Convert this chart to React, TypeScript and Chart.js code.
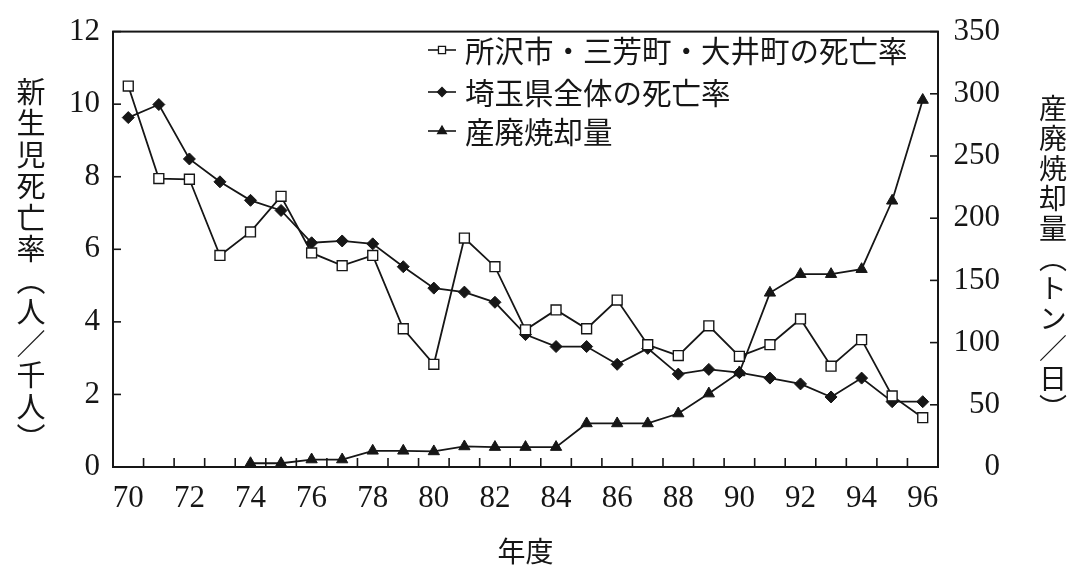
import React, { useEffect, useRef } from 'react';
import { Chart, registerables } from 'chart.js';
import { drawPoint } from 'chart.js/helpers';

Chart.register(...registerables);

// ---- data ----
const years = ['70', '71', '72', '73', '74', '75', '76', '77', '78', '79', '80', '81', '82', '83', '84', '85', '86', '87', '88', '89', '90', '91', '92', '93', '94', '95', '96'];
const tokorozawaRate = [10.5, 7.95, 7.93, 5.83, 6.48, 7.46, 5.9, 5.55, 5.83, 3.81, 2.83, 6.31, 5.52, 3.78, 4.33, 3.81, 4.6, 3.37, 3.07, 3.89, 3.05, 3.37, 4.08, 2.78, 3.51, 1.96, 1.36];
const saitamaRate = [9.63, 9.99, 8.49, 7.86, 7.35, 7.07, 6.18, 6.23, 6.15, 5.52, 4.93, 4.82, 4.54, 3.65, 3.32, 3.32, 2.83, 3.27, 2.56, 2.69, 2.6, 2.45, 2.29, 1.93, 2.45, 1.8, 1.8];
const incinerationTons = [null, null, null, null, 3, 3, 6, 6, 13, 13, 12.5, 16.5, 16, 16, 16, 35, 35, 35, 43, 59, 76, 140, 155, 155, 159, 214, 295];
const seriesNames = ['所沢市・三芳町・大井町の死亡率', '埼玉県全体の死亡率', '産廃焼却量'];
const xTitle = '年度';
const leftTitle = '新生児死亡率（人／千人）';
const rightTitle = '産廃焼却量（トン／日）';
const leftRange = { min: 0, max: 12, step: 2 };
const rightRange = { min: 0, max: 350, step: 50 };

const INK = '#161616';
const NUM_FONT = '"Liberation Serif", "DejaVu Serif", serif';
const CJK_FONT = '"Noto Sans CJK JP", "Noto Sans CJK SC", sans-serif';

const framePlugin = {
  id: 'frameTicks',
  afterDatasetsDraw(chart: any) {
    const { ctx, chartArea } = chart;
    const { left, right, top, bottom } = chartArea;
    const xs = chart.scales.x;
    const yl = chart.scales.yL;
    const yr = chart.scales.yR;
    ctx.save();
    ctx.strokeStyle = INK;
    ctx.lineWidth = 1.6;
    const n = xs.ticks.length;
    for (let i = 0; i < n - 1; i++) {
      const x = (xs.getPixelForTick(i) + xs.getPixelForTick(i + 1)) / 2;
      ctx.beginPath();
      ctx.moveTo(x, bottom);
      ctx.lineTo(x, bottom - 9);
      ctx.stroke();
    }
    yl.ticks.forEach((t: any) => {
      const y = yl.getPixelForValue(t.value);
      ctx.beginPath();
      ctx.moveTo(left, y);
      ctx.lineTo(left + 8, y);
      ctx.stroke();
    });
    yr.ticks.forEach((t: any) => {
      const y = yr.getPixelForValue(t.value);
      ctx.beginPath();
      ctx.moveTo(right, y);
      ctx.lineTo(right - 8, y);
      ctx.stroke();
    });
    ctx.lineWidth = 2;
    ctx.strokeRect(left, top, right - left, bottom - top);
    ctx.restore();
  },
};

const legendPlugin = {
  id: 'innerLegend',
  afterDraw(chart: any) {
    const { ctx } = chart;
    const rows = [50, 92, 131];
    const x0 = 428;
    const x1 = 456;
    ctx.save();
    chart.data.datasets.forEach((ds: any, i: number) => {
      const y = rows[i];
      ctx.strokeStyle = INK;
      ctx.lineWidth = 1.6;
      ctx.beginPath();
      ctx.moveTo(x0, y);
      ctx.lineTo(x1, y);
      ctx.stroke();
      ctx.fillStyle = ds.pointBackgroundColor;
      ctx.strokeStyle = INK;
      ctx.lineWidth = 1.3;
      drawPoint(ctx, { pointStyle: ds.pointStyle, radius: ds.legendRadius, rotation: 0, borderWidth: 1.3 }, (x0 + x1) / 2, y);
      ctx.fillStyle = INK;
      ctx.font = `29.5px ${CJK_FONT}`;
      ctx.textBaseline = 'middle';
      ctx.textAlign = 'left';
      ctx.fillText(ds.label, 465, y + 1);
    });
    ctx.restore();
  },
};

export default function App() {
  const canvasRef = useRef<HTMLCanvasElement | null>(null);

  useEffect(() => {
    document.body.style.margin = '0';
    const canvas = canvasRef.current;
    if (!canvas) return;
    const chart = new Chart(canvas, {
      type: 'line',
      data: {
        labels: years,
        datasets: [
          {
            label: seriesNames[0],
            data: tokorozawaRate,
            yAxisID: 'yL',
            borderColor: INK,
            borderWidth: 1.8,
            pointStyle: 'rect',
            pointRadius: 7,
            pointBackgroundColor: '#ffffff',
            pointBorderColor: INK,
            pointBorderWidth: 1.4,
            tension: 0,
            legendRadius: 5,
          } as any,
          {
            label: seriesNames[1],
            data: saitamaRate,
            yAxisID: 'yL',
            borderColor: INK,
            borderWidth: 1.8,
            pointStyle: 'rectRot',
            pointRadius: 6,
            pointBackgroundColor: INK,
            pointBorderColor: INK,
            pointBorderWidth: 1,
            tension: 0,
            legendRadius: 4.5,
          } as any,
          {
            label: seriesNames[2],
            data: incinerationTons,
            yAxisID: 'yR',
            borderColor: INK,
            borderWidth: 1.8,
            pointStyle: 'triangle',
            pointRadius: 6.5,
            pointBackgroundColor: INK,
            pointBorderColor: INK,
            pointBorderWidth: 1,
            tension: 0,
            spanGaps: false,
            legendRadius: 5,
          } as any,
        ],
      },
      options: {
        responsive: false,
        animation: false,
        layout: { padding: { top: 26, right: 88, left: 0, bottom: 0 } },
        plugins: {
          legend: { display: false },
          tooltip: { enabled: false },
        },
        scales: {
          x: {
            type: 'category',
            offset: true,
            grid: { display: false, drawTicks: false, offset: true },
            border: { display: false },
            ticks: {
              autoSkip: false,
              maxRotation: 0,
              padding: 13,
              color: INK,
              font: { family: NUM_FONT, size: 31 },
              callback: (_v: any, i: number) => (i % 2 === 0 ? years[i] : ''),
            },
            title: {
              display: true,
              text: xTitle,
              color: INK,
              font: { family: CJK_FONT, size: 28 },
              padding: { top: 4, bottom: 20 },
            },
            afterFit: (s: any) => {
              s.height = 121;
            },
          },
          yL: {
            type: 'linear',
            position: 'left',
            min: leftRange.min,
            max: leftRange.max,
            grid: { display: false, drawTicks: false },
            border: { display: false },
            ticks: {
              stepSize: leftRange.step,
              padding: 13,
              color: INK,
              font: { family: NUM_FONT, size: 31 },
            },
            afterFit: (s: any) => {
              s.width = 113;
            },
          },
          yR: {
            type: 'linear',
            position: 'right',
            min: rightRange.min,
            max: rightRange.max,
            grid: { display: false, drawTicks: false },
            border: { display: false },
            ticks: {
              stepSize: rightRange.step,
              crossAlign: 'far',
              padding: 10,
              color: INK,
              font: { family: NUM_FONT, size: 31 },
            },
            afterFit: (s: any) => {
              s.width = 62;
            },
          },
        },
      },
      plugins: [framePlugin, legendPlugin],
    } as any);
    return () => chart.destroy();
  }, []);

  return (
    <div style={{ position: 'relative', width: 1088, height: 588, overflow: 'hidden', background: '#ffffff' }}>
      <canvas ref={canvasRef} width={1088} height={588} style={{ width: 1088, height: 588, display: 'block' }} />
      <div
        style={{
          position: 'absolute',
          left: 16,
          top: 77,
          writingMode: 'vertical-rl',
          fontFamily: CJK_FONT,
          fontSize: 29,
          lineHeight: '30px',
          color: INK,
          whiteSpace: 'nowrap',
          letterSpacing: 2.5,
        }}
      >
        {leftTitle}
      </div>
      <div
        style={{
          position: 'absolute',
          left: 1038,
          top: 94,
          writingMode: 'vertical-rl',
          fontFamily: CJK_FONT,
          fontSize: 28,
          lineHeight: '29px',
          color: INK,
          whiteSpace: 'nowrap',
          letterSpacing: 2,
        }}
      >
        {rightTitle}
      </div>
    </div>
  );
}
